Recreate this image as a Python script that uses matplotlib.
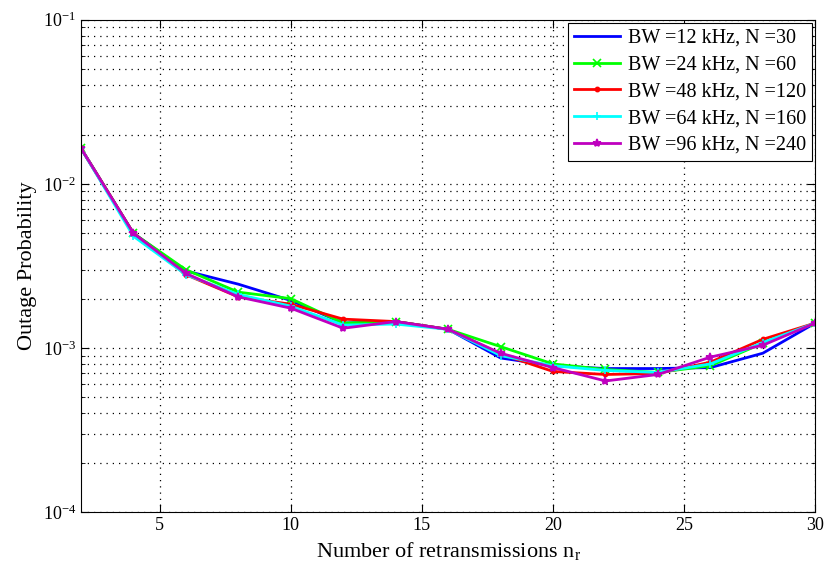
import matplotlib
matplotlib.use("Agg")
import matplotlib.pyplot as plt
from matplotlib.ticker import LogLocator, NullFormatter, FixedLocator

plt.rcParams["font.family"] = ["Liberation Serif", "DejaVu Serif"]
plt.rcParams["mathtext.fontset"] = "stix"

retransmissions = [2, 4, 6, 8, 10, 12, 14, 16, 18, 20, 22, 24, 26, 28, 30]
bw_12 = [0.0165, 0.0050, 0.00295, 0.00245, 0.00195, 0.00142, 0.00145, 0.00130,
         0.00087, 0.00078, 0.00075, 0.00075, 0.00076, 0.00093, 0.00142]
bw_24 = [0.0165, 0.0050, 0.00300, 0.00219, 0.00200, 0.00142, 0.00145, 0.00130,
         0.00102, 0.00080, 0.00074, 0.00071, 0.00078, 0.00107, 0.00142]
bw_48 = [0.0165, 0.0050, 0.00280, 0.00205, 0.00185, 0.00150, 0.00145, 0.00130,
         0.00092, 0.00072, 0.00069, 0.00070, 0.00082, 0.00113, 0.00142]
bw_64 = [0.0165, 0.0048, 0.00280, 0.00212, 0.00180, 0.00138, 0.00140, 0.00130,
         0.00090, 0.00078, 0.00073, 0.00071, 0.00080, 0.00108, 0.00142]
bw_96 = [0.0165, 0.0050, 0.00285, 0.00205, 0.00175, 0.00132, 0.00145, 0.00130,
         0.00093, 0.00076, 0.00063, 0.00069, 0.00088, 0.00104, 0.00142]

series = [
    (bw_12, "BW =12 kHz, N =30", "#0000ff", "None"),
    (bw_24, "BW =24 kHz, N =60", "#00ff00", "x"),
    (bw_48, "BW =48 kHz, N =120", "#ff0000", "."),
    (bw_64, "BW =64 kHz, N =160", "#00ffff", "+"),
    (bw_96, "BW =96 kHz, N =240", "#bf00bf", "*"),
]

fig = plt.figure(figsize=(8.26, 5.82), dpi=100)
ax = fig.add_axes([0.098, 0.120, 0.889, 0.846])

for values, label, color, marker in series:
    ax.plot(retransmissions, values, color=color, marker=marker,
            markersize=6, markeredgewidth=1.2, linewidth=2, label=label)

ax.set_yscale("log")
ax.set_ylim(1e-4, 1e-1)
ax.set_xlim(2, 30)
ax.xaxis.set_major_locator(FixedLocator([5, 10, 15, 20, 25, 30]))
ax.yaxis.set_major_locator(LogLocator(base=10, numticks=10))
ax.yaxis.set_minor_locator(LogLocator(base=10, subs=range(2, 10), numticks=20))
ax.yaxis.set_minor_formatter(NullFormatter())

ax.tick_params(which="both", direction="in", top=True, right=True,
               labelsize=13)
ax.tick_params(which="major", length=6)
ax.tick_params(which="minor", length=3)
grid_style = dict(linestyle=(0, (1, 4)), color="black", linewidth=0.9)
ax.grid(which="major", **grid_style)
ax.grid(which="minor", axis="y", **grid_style)

ax.set_xlabel("Number of retransmissions n$_\\mathregular{r}$", fontsize=16)
ax.set_ylabel("Outage Probability", fontsize=16)

leg = ax.legend(loc="upper right", fontsize=14.5, fancybox=False,
                framealpha=1, edgecolor="black", borderaxespad=0.15,
                handlelength=2.3, handletextpad=0.4, labelspacing=0.38,
                borderpad=0.3)
leg.get_frame().set_linewidth(0.8)

fig.savefig("out.png", dpi=100)
